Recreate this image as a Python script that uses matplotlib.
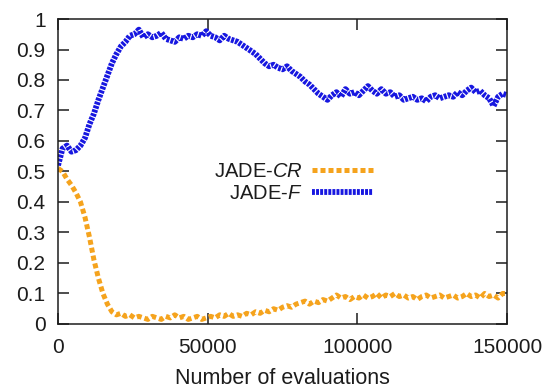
import numpy as np
import matplotlib
matplotlib.use('Agg')
import matplotlib.pyplot as plt
from matplotlib.ticker import FormatStrFormatter

STEP = 1500

jade_cr = [
    0.51, 0.50, 0.475, 0.455, 0.43, 0.40, 0.35, 0.285, 0.21, 0.15,
    0.10, 0.065, 0.04, 0.03, 0.035, 0.025, 0.03, 0.02, 0.025, 0.02,
    0.015, 0.025, 0.02, 0.015, 0.025, 0.02, 0.03, 0.02, 0.025, 0.015,
    0.02, 0.025, 0.015, 0.02, 0.025, 0.02, 0.03, 0.025, 0.035, 0.025,
    0.03, 0.025, 0.035, 0.03, 0.04, 0.035, 0.045, 0.04, 0.05, 0.045,
    0.055, 0.06, 0.055, 0.065, 0.07, 0.075, 0.065, 0.075, 0.07, 0.08,
    0.075, 0.085, 0.095, 0.085, 0.09, 0.08, 0.09, 0.085, 0.095, 0.085,
    0.09, 0.10, 0.085, 0.095, 0.09, 0.10, 0.09, 0.095, 0.085, 0.09,
    0.08, 0.09, 0.095, 0.085, 0.09, 0.095, 0.085, 0.09, 0.095, 0.085,
    0.09, 0.10, 0.09, 0.095, 0.085, 0.10, 0.09, 0.095, 0.085, 0.10,
    0.10,
]

jade_f = [
    0.52, 0.575, 0.585, 0.565, 0.57, 0.585, 0.61, 0.655, 0.69, 0.735,
    0.775, 0.815, 0.855, 0.885, 0.91, 0.925, 0.945, 0.95, 0.965, 0.94,
    0.95, 0.94, 0.945, 0.955, 0.935, 0.93, 0.925, 0.94, 0.935, 0.945,
    0.94, 0.95, 0.945, 0.96, 0.945, 0.94, 0.93, 0.945, 0.935, 0.93,
    0.925, 0.915, 0.905, 0.895, 0.885, 0.87, 0.855, 0.845, 0.85, 0.84,
    0.835, 0.845, 0.83, 0.82, 0.81, 0.795, 0.785, 0.77, 0.755, 0.745,
    0.735, 0.75, 0.76, 0.745, 0.77, 0.755, 0.76, 0.75, 0.765, 0.78,
    0.765, 0.755, 0.77, 0.755, 0.76, 0.745, 0.75, 0.735, 0.74, 0.745,
    0.735, 0.74, 0.73, 0.745, 0.75, 0.74, 0.745, 0.75, 0.745, 0.76,
    0.75, 0.765, 0.775, 0.76, 0.765, 0.75, 0.74, 0.715, 0.745, 0.755,
    0.75,
]

evals = np.arange(len(jade_f)) * STEP

plt.rcParams['font.family'] = ['Liberation Sans', 'DejaVu Sans']
plt.rcParams['mathtext.fontset'] = 'custom'
plt.rcParams['mathtext.it'] = 'Liberation Sans:italic'
plt.rcParams['mathtext.rm'] = 'Liberation Sans'

text_color = '#1c1c1c'

figure = plt.figure(figsize=(5.5, 3.91), dpi=100)
ax = figure.add_axes([0.1055, 0.1714, 0.8165, 0.78])

ax.plot(evals, jade_cr, color='#f5a31d', lw=3.6,
        linestyle=(0, (1.0, 0.6)), label=r'JADE-$\mathit{CR}$')
ax.plot(evals, jade_f, color='#1717e0', lw=4.2,
        linestyle=(0, (0.5, 0.2)), label=r'JADE-$\mathit{F}$')

ax.set_xlim(0, 150000)
ax.set_ylim(0, 1)
ax.set_xticks([0, 50000, 100000, 150000])
ax.set_yticks(np.arange(0, 1.01, 0.1))
ax.yaxis.set_major_formatter(FormatStrFormatter('%g'))

ax.tick_params(direction='in', length=8, width=1.1, labelsize=15,
               colors=text_color, top=True, right=True)
ax.tick_params(axis='y', pad=9)
ax.tick_params(axis='x', pad=10)
for spine in ax.spines.values():
    spine.set_linewidth(1.1)
    spine.set_color(text_color)

ax.set_xlabel('Number of evaluations', fontsize=15.5, color=text_color,
              labelpad=8)

legend = ax.legend(loc='upper right', bbox_to_anchor=(0.678, 0.585),
                   bbox_transform=figure.transFigure, frameon=False,
                   markerfirst=False, fontsize=14.5, handlelength=3.0,
                   handletextpad=0.5, borderpad=0, borderaxespad=0,
                   labelspacing=0.15)
for text in legend.get_texts():
    text.set_color(text_color)

figure.savefig('out.png', dpi=100)
